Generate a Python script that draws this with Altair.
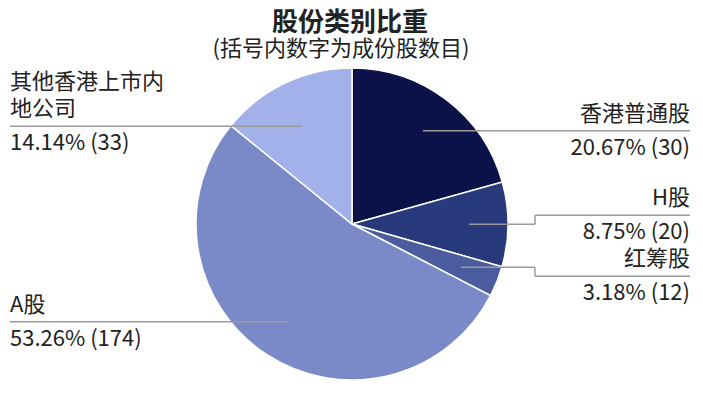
import altair as alt
import pandas as pd

# ---- data ----
categories = ["香港普通股", "H股", "红筹股", "A股", "其他香港上市内地公司"]
label_text = ["香港普通股", "H股", "红筹股", "A股", "其他香港上市内\n地公司"]
pct = [20.67, 8.75, 3.18, 53.26, 14.14]
counts = [30, 20, 12, 174, 33]
title = "股份类别比重"
subtitle = "(括号内数字为成份股数目)"

# ---- style / layout ----
colors = ["#0a1249", "#283a7c", "#4b5c9e", "#7a8ac8", "#a2b1ea"]
label_dy = [0, -9, 9, 0, 8]
CX, CY, R, R_LABEL = 344, 216, 156, 117
ELBOW_X = CX + 183
RIGHT_END, LEFT_END = 682, 2
FONT = "Noto Sans CJK SC"
FS = 22
LINE_H = 27
LINE_COLOR = "#9a9a9a"

df = pd.DataFrame({
    "idx": list(range(len(categories))),
    "category": categories,
    "label": label_text,
    "nlines": [t.count("\n") + 1 for t in label_text],
    "pct": pct,
    "count": counts,
    "valtext": [f"{p:.2f}% ({c})" for p, c in zip(pct, counts)],
    "dy": label_dy,
})

arc = alt.Chart(df).mark_arc(radius=R, stroke="white", strokeWidth=1.5).encode(
    theta=alt.Theta("pct:Q", stack=True),
    color=alt.Color("category:N", scale=alt.Scale(domain=categories, range=colors), legend=None),
    order=alt.Order("idx:Q"),
    x=alt.value(CX),
    y=alt.value(CY),
)

base = alt.Chart(df).transform_window(
    cum="sum(pct)", sort=[alt.SortField("idx")]
).transform_calculate(
    mid="(datum.cum - datum.pct/2)/100*2*PI",
).transform_calculate(
    x0=f"{CX}+{R_LABEL}*sin(datum.mid)",
    y0=f"{CY}-{R_LABEL}*cos(datum.mid)",
).transform_calculate(
    right=f"datum.x0 > {CX} ? 1 : 0",
    ly="datum.y0 + datum.dy",
).transform_calculate(
    sy="datum.right == 1 ? datum.y0 : datum.ly",
    ex=f"datum.right == 1 ? {ELBOW_X} : datum.x0",
    endx=f"datum.right == 1 ? {RIGHT_END} : {LEFT_END}",
    ty=f"datum.ly - 10 - (datum.nlines - 1)*{LINE_H}",
    vy="datum.ly + 24",
)

rule_style = dict(color=LINE_COLOR, strokeWidth=1.5)
seg1 = base.mark_rule(**rule_style).encode(
    x=alt.X("x0:Q", scale=None), x2="ex:Q",
    y=alt.Y("sy:Q", scale=None), y2="sy:Q",
)
seg2 = base.mark_rule(**rule_style).encode(
    x=alt.X("ex:Q", scale=None),
    y=alt.Y("sy:Q", scale=None), y2="ly:Q",
)
seg3 = base.mark_rule(**rule_style).encode(
    x=alt.X("ex:Q", scale=None), x2="endx:Q",
    y=alt.Y("ly:Q", scale=None), y2="ly:Q",
)

txt_style = dict(font=FONT, fontSize=FS, color="#222222", lineBreak="\n", lineHeight=LINE_H,
                 baseline="alphabetic")
cat_r = base.transform_filter("datum.right == 1").mark_text(align="right", **txt_style).encode(
    x=alt.X("endx:Q", scale=None), y=alt.Y("ty:Q", scale=None), text="label:N")
val_r = base.transform_filter("datum.right == 1").mark_text(align="right", **txt_style).encode(
    x=alt.X("endx:Q", scale=None), y=alt.Y("vy:Q", scale=None), text="valtext:N")
cat_l = base.transform_filter("datum.right == 0").mark_text(align="left", **txt_style).encode(
    x=alt.X("endx:Q", scale=None), y=alt.Y("ty:Q", scale=None), text="label:N")
val_l = base.transform_filter("datum.right == 0").mark_text(align="left", **txt_style).encode(
    x=alt.X("endx:Q", scale=None), y=alt.Y("vy:Q", scale=None), text="valtext:N")

tdf = pd.DataFrame({"t": [title]})
sdf = pd.DataFrame({"t": [subtitle]})
title_mark = alt.Chart(tdf).mark_text(font=FONT, fontSize=26, fontWeight="bold", color="#222222",
                                      align="center", baseline="alphabetic").encode(
    text="t:N", x=alt.value(342), y=alt.value(23))
sub_mark = alt.Chart(sdf).mark_text(font=FONT, fontSize=22, color="#222222",
                                    align="center", baseline="alphabetic").encode(
    text="t:N", x=alt.value(333), y=alt.value(48))

chart = alt.layer(arc, seg1, seg2, seg3, cat_r, val_r, cat_l, val_l, title_mark, sub_mark).properties(
    width=687, height=377, padding=0, autosize="none"
).configure_view(stroke=None)

chart.save("out.html", embed_options={"renderer": "svg", "actions": False})
